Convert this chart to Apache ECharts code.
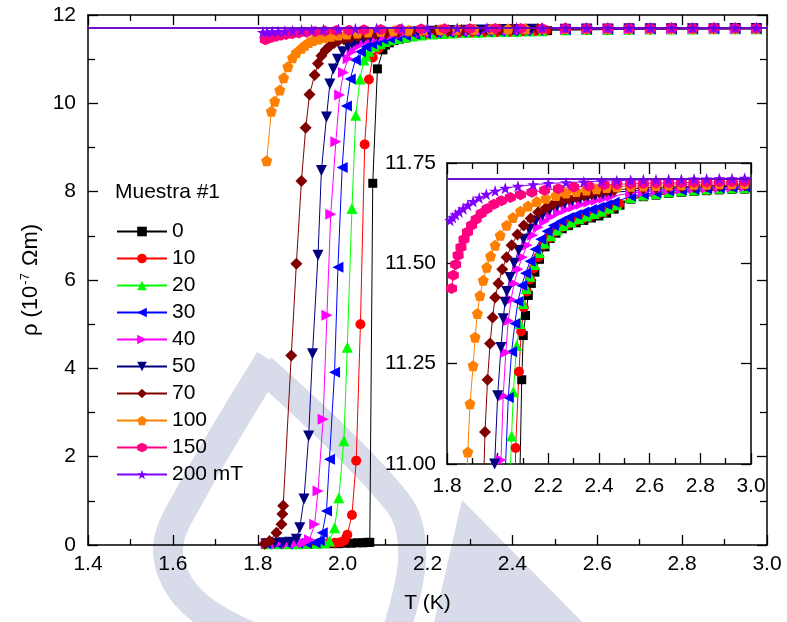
<!DOCTYPE html>
<html>
<head>
<meta charset="utf-8">
<script src="https://cdn.jsdelivr.net/npm/echarts@6/dist/echarts.min.js"></script>
<style>
  html, body { margin: 0; padding: 0; background: #fff; }
  #chart { width: 787px; height: 622px; }
</style>
</head>
<body>
<div id="chart"></div>
<script>
// Resistivity rho (10^-7 Ohm m) versus temperature T (K), sample #1, for several applied fields.
// Each curve is a list of [T, rho] pairs.
const rho0 = [
  [1.820,0.02],[1.845,0.02],[1.870,0.02],[1.895,0.02],[1.920,0.02],[1.945,0.03],[1.970,0.03],[1.990,0.03],
  [2.005,0.04],[2.020,0.04],[2.035,0.05],[2.048,0.05],[2.058,0.06],[2.064,0.06],
  [2.071,8.19],[2.082,10.78],[2.095,11.21],[2.101,11.32],[2.110,11.37],[2.121,11.42],[2.133,11.45],
  [2.147,11.478],[2.165,11.51],[2.187,11.541],[2.207,11.562],[2.230,11.575],[2.255,11.586],[2.280,11.594],
  [2.310,11.601],[2.340,11.607],[2.370,11.613],[2.400,11.618],[2.430,11.625],[2.460,11.635],[2.483,11.645],
  [2.525,11.660],[2.575,11.666],[2.625,11.670],[2.675,11.674],[2.725,11.677],[2.775,11.679],[2.825,11.681],
  [2.875,11.683],[2.925,11.684],[2.975,11.685]
];
const rho10 = [
  [1.820,0.03],[1.845,0.03],[1.870,0.03],[1.895,0.03],[1.920,0.03],[1.945,0.04],[1.965,0.04],[1.982,0.05],
  [1.995,0.06],[2.004,0.10],[2.011,0.23],[2.022,0.68],[2.032,1.91],[2.042,5.00],[2.052,9.07],[2.062,10.54],
  [2.071,11.04],[2.084,11.23],[2.093,11.33],[2.103,11.39],[2.115,11.43],[2.128,11.46],[2.142,11.487],
  [2.160,11.515],[2.180,11.545],[2.200,11.563],[2.225,11.578],[2.250,11.589],[2.275,11.597],[2.305,11.605],
  [2.335,11.611],[2.365,11.617],[2.395,11.623],[2.425,11.630],[2.455,11.640],[2.480,11.648],
  [2.525,11.662],[2.575,11.668],[2.625,11.672],[2.675,11.676],[2.725,11.679],[2.775,11.681],[2.825,11.683],
  [2.875,11.685],[2.925,11.686],[2.975,11.687]
];
const rho20 = [
  [1.820,0.03],[1.845,0.03],[1.870,0.03],[1.895,0.03],[1.920,0.04],[1.940,0.04],[1.957,0.05],[1.969,0.09],
  [1.981,0.39],[1.991,1.07],[2.003,2.36],[2.011,4.48],[2.022,7.62],[2.031,9.73],[2.041,10.55],[2.050,10.98],
  [2.055,11.07],[2.062,11.18],[2.075,11.295],[2.088,11.35],[2.100,11.40],[2.113,11.437],[2.128,11.468],
  [2.145,11.497],[2.165,11.527],[2.185,11.550],[2.210,11.569],[2.235,11.583],[2.260,11.594],[2.290,11.603],
  [2.320,11.611],[2.350,11.618],[2.380,11.624],[2.410,11.630],[2.440,11.637],[2.470,11.646],
  [2.525,11.664],[2.575,11.670],[2.625,11.674],[2.675,11.678],[2.725,11.681],[2.775,11.683],[2.825,11.685],
  [2.875,11.687],[2.925,11.688],[2.975,11.689]
];
const rho30 = [
  [1.820,0.03],[1.845,0.03],[1.870,0.03],[1.895,0.04],[1.915,0.04],[1.935,0.05],[1.945,0.10],[1.952,0.28],
  [1.962,0.77],[1.969,1.94],[1.981,3.91],[1.989,6.29],[1.999,8.55],[2.009,9.94],[2.018,10.55],[2.030,10.98],
  [2.042,11.166],[2.055,11.28],[2.068,11.35],[2.080,11.405],[2.095,11.445],[2.110,11.475],[2.128,11.505],
  [2.148,11.535],[2.170,11.560],[2.195,11.580],[2.220,11.594],[2.250,11.605],[2.280,11.614],[2.310,11.621],
  [2.340,11.628],[2.370,11.634],[2.400,11.640],[2.430,11.646],[2.460,11.652],
  [2.525,11.667],[2.575,11.672],[2.625,11.676],[2.675,11.680],[2.725,11.682],[2.775,11.684],[2.825,11.686],
  [2.875,11.688],[2.925,11.689],[2.975,11.690]
];
const rho40 = [
  [1.820,0.03],[1.845,0.03],[1.870,0.04],[1.890,0.04],[1.908,0.05],[1.922,0.12],[1.934,0.47],[1.942,1.22],
  [1.954,2.85],[1.963,5.20],[1.972,7.49],[1.984,9.13],[1.993,10.19],[2.002,10.70],[2.013,11.01],[2.022,11.17],
  [2.032,11.278],[2.042,11.357],[2.053,11.41],[2.065,11.45],[2.080,11.485],[2.097,11.515],[2.116,11.545],
  [2.138,11.570],[2.160,11.590],[2.185,11.605],[2.210,11.616],[2.240,11.626],[2.270,11.634],[2.300,11.641],
  [2.330,11.647],[2.360,11.652],[2.390,11.657],[2.420,11.662],[2.450,11.667],
  [2.525,11.675],[2.575,11.678],[2.625,11.681],[2.675,11.683],[2.725,11.685],[2.775,11.687],[2.825,11.688],
  [2.875,11.689],[2.925,11.690],[2.975,11.691]
];
const rho50 = [
  [1.820,0.03],[1.840,0.04],[1.860,0.05],[1.875,0.06],[1.891,0.13],[1.899,0.39],[1.909,1.04],[1.920,2.47],
  [1.929,4.33],[1.942,6.56],[1.950,8.48],[1.962,9.69],[1.970,10.44],[1.978,10.78],[1.988,11.00],[2.000,11.17],
  [2.013,11.29],[2.022,11.362],[2.029,11.403],[2.036,11.43],[2.049,11.465],[2.065,11.50],[2.083,11.532],
  [2.102,11.560],[2.125,11.585],[2.150,11.605],[2.177,11.620],[2.205,11.632],[2.235,11.642],[2.265,11.650],
  [2.295,11.656],[2.325,11.661],[2.355,11.665],[2.385,11.669],[2.415,11.673],[2.445,11.677],
  [2.525,11.680],[2.575,11.682],[2.625,11.684],[2.675,11.686],[2.725,11.688],[2.775,11.689],[2.825,11.690],
  [2.875,11.691],[2.925,11.692],[2.975,11.693]
];
const rho70 = [
  [1.816,0.03],[1.828,0.09],[1.844,0.28],[1.856,0.47],[1.858,0.70],[1.860,0.89],[1.879,4.29],[1.891,6.37],
  [1.903,8.24],[1.913,9.45],[1.922,10.20],[1.934,10.64],[1.942,10.90],[1.950,11.08],[1.960,11.21],[1.970,11.30],
  [1.980,11.365],[1.990,11.415],[2.003,11.45],[2.018,11.485],[2.035,11.515],[2.055,11.545],[2.078,11.572],
  [2.103,11.594],[2.130,11.612],[2.160,11.627],[2.190,11.638],[2.220,11.647],[2.250,11.654],[2.280,11.660],
  [2.310,11.665],[2.340,11.669],[2.370,11.673],[2.400,11.677],[2.430,11.680],[2.460,11.683],
  [2.525,11.686],[2.575,11.688],[2.625,11.689],[2.675,11.690],[2.725,11.691],[2.775,11.692],[2.825,11.693],
  [2.875,11.694],[2.925,11.695],[2.975,11.696]
];
const rho100 = [
  [1.821,8.70],[1.832,9.82],[1.840,10.05],[1.852,10.30],[1.861,10.58],[1.871,10.83],[1.882,11.03],[1.891,11.15],
  [1.903,11.245],[1.911,11.316],[1.920,11.375],[1.930,11.42],[1.943,11.458],[1.957,11.49],[1.972,11.518],
  [1.990,11.545],[2.010,11.570],[2.035,11.595],[2.060,11.614],[2.090,11.630],[2.120,11.643],[2.155,11.654],
  [2.190,11.662],[2.230,11.669],[2.270,11.675],[2.310,11.679],[2.350,11.683],[2.390,11.686],[2.430,11.689],
  [2.470,11.691],
  [2.525,11.692],[2.575,11.693],[2.625,11.694],[2.675,11.695],[2.725,11.696],[2.775,11.697],[2.825,11.697],
  [2.875,11.698],[2.925,11.698],[2.975,11.699]
];
const rho150 = [
  [1.818,11.437],[1.825,11.47],[1.834,11.497],[1.844,11.52],[1.855,11.54],[1.867,11.56],[1.881,11.578],
  [1.897,11.595],[1.915,11.61],[1.935,11.624],[1.958,11.636],[1.985,11.647],[2.015,11.656],[2.050,11.664],
  [2.090,11.671],[2.135,11.677],[2.185,11.682],[2.240,11.686],[2.300,11.690],[2.360,11.693],[2.420,11.696],
  [2.470,11.697],
  [2.525,11.698],[2.575,11.699],[2.625,11.700],[2.675,11.700],[2.725,11.701],[2.775,11.702],[2.825,11.702],
  [2.875,11.703],[2.925,11.703],[2.975,11.704]
];
const rho200 = [
  [1.812,11.607],[1.822,11.614],[1.834,11.621],[1.848,11.628],[1.864,11.636],[1.882,11.645],[1.903,11.654],
  [1.927,11.663],[1.955,11.672],[1.990,11.680],[2.030,11.687],[2.080,11.692],[2.140,11.696],[2.200,11.699],
  [2.270,11.701],[2.340,11.703],[2.410,11.705],[2.470,11.706],
  [2.525,11.707],[2.575,11.708],[2.625,11.708],[2.675,11.709],[2.725,11.709],[2.775,11.710],[2.825,11.710],
  [2.875,11.711],[2.925,11.711],[2.975,11.712]
];

// Legend entries (field in mT) and the curves in the same order
const fieldLabels = ['0', '10', '20', '30', '40', '50', '70', '100', '150', '200 mT'];
const curves = [rho0, rho10, rho20, rho30, rho40, rho50, rho70, rho100, rho150, rho200];

// Normal-state reference levels drawn as horizontal lines
const normalLevelHigh = 11.714;
const normalLevelLow = 11.707;

// Axis ranges
const mainT = [1.4, 3.0], mainRho = [0, 12];
const insetT = [1.8, 3.0], insetRho = [11.0, 11.75];

// ---- styling ----
const FONT = 'Liberation Sans, Arial, sans-serif';
const colors = ['#000000', '#ff0000', '#00ff00', '#0000ff', '#ff00ff', '#000080', '#800000', '#ff8000', '#ff0080', '#8000ff'];
const pentagon = 'path://M50,0 L97.6,34.5 L79.4,90.5 L20.6,90.5 L2.4,34.5 Z';
const hexagon = 'path://M50,0 L93.3,25 L93.3,75 L50,100 L6.7,75 L6.7,25 Z';
const star = 'path://M50,0 L61.8,35.3 L99,35.3 L69,57.1 L80.4,92.7 L50,70.7 L19.6,92.7 L31,57.1 L1,35.3 L38.2,35.3 Z';
const marks = [
  { symbol: 'rect', size: 9, rotate: 0 },
  { symbol: 'circle', size: 10, rotate: 0 },
  { symbol: 'triangle', size: 11, rotate: 0 },
  { symbol: 'triangle', size: 11, rotate: 90 },
  { symbol: 'triangle', size: 11, rotate: -90 },
  { symbol: 'triangle', size: 11, rotate: 180 },
  { symbol: 'diamond', size: 12, rotate: 0 },
  { symbol: pentagon, size: 11, rotate: 0 },
  { symbol: hexagon, size: 11, rotate: 0 },
  { symbol: star, size: 12, rotate: 0 }
];

const black = '#000';
const axisLine = { show: true, onZero: false, lineStyle: { color: black, width: 1.5 } };

function valueAxis(opts) {
  const base = {
    type: 'value',
    axisLine: axisLine,
    axisTick: { show: true, inside: true, length: opts.tickLen || 9, lineStyle: { color: black, width: 1.3 } },
    minorTick: { show: !!opts.minor, splitNumber: 2, length: opts.minorLen || 5, lineStyle: { color: black, width: 1.3 } },
    splitLine: { show: false },
    minorSplitLine: { show: false },
    axisLabel: opts.labels === false ? { show: false } : {
      show: true, color: black, fontFamily: FONT, fontSize: 21, margin: opts.margin,
      formatter: v => v.toFixed(opts.decimals)
    }
  };
  return Object.assign(base, opts.extra || {});
}

const xAxes = [
  valueAxis({ minor: true, margin: 9, decimals: 1, tickLen: 10, minorLen: 6, extra: {
    gridIndex: 0, position: 'bottom', min: mainT[0], max: mainT[1], interval: 0.2,
    name: 'T (K)', nameLocation: 'middle', nameGap: 48,
    nameTextStyle: { color: black, fontFamily: FONT, fontSize: 21 } } }),
  valueAxis({ minor: true, labels: false, tickLen: 10, minorLen: 6, extra: {
    gridIndex: 0, position: 'top', min: mainT[0], max: mainT[1], interval: 0.2 } }),
  valueAxis({ minor: true, margin: 12, decimals: 1, tickLen: 11, minorLen: 6, extra: {
    gridIndex: 1, position: 'bottom', min: insetT[0], max: insetT[1], interval: 0.2 } }),
  valueAxis({ minor: true, labels: false, tickLen: 11, minorLen: 6, extra: {
    gridIndex: 1, position: 'top', min: insetT[0], max: insetT[1], interval: 0.2 } })
];
const yAxes = [
  valueAxis({ minor: true, margin: 12, decimals: 0, tickLen: 10, minorLen: 7, extra: {
    gridIndex: 0, position: 'left', min: mainRho[0], max: mainRho[1], interval: 2,
    name: '{n|ρ (10}{s|-7}{n| Ωm)}', nameLocation: 'middle', nameGap: 46, nameRotate: 90,
    nameTextStyle: { color: black, fontFamily: FONT, fontSize: 22,
      rich: { n: { fontFamily: FONT, fontSize: 22, color: black },
              s: { fontFamily: FONT, fontSize: 13, color: black, padding: [0, 1, 10, 1] } } } } }),
  valueAxis({ minor: true, labels: false, tickLen: 10, minorLen: 7, extra: {
    gridIndex: 0, position: 'right', min: mainRho[0], max: mainRho[1], interval: 2 } }),
  valueAxis({ minor: false, margin: 11, decimals: 2, tickLen: 10, extra: {
    gridIndex: 1, position: 'left', min: insetRho[0], max: insetRho[1], interval: 0.25 } }),
  valueAxis({ minor: false, labels: false, tickLen: 10, extra: {
    gridIndex: 1, position: 'right', min: insetRho[0], max: insetRho[1], interval: 0.25 } })
];

function makeSeries(i, xi, yi) {
  const s = {
    name: fieldLabels[i],
    type: 'line',
    xAxisIndex: xi,
    yAxisIndex: yi,
    data: curves[i],
    symbol: marks[i].symbol,
    symbolSize: marks[i].size,
    symbolRotate: marks[i].rotate,
    showSymbol: true,
    clip: true,
    lineStyle: { color: colors[i], width: 1 },
    itemStyle: { color: colors[i] },
    emphasis: { disabled: true },
    animation: false
  };
  const level = i === 0 ? normalLevelLow : (i === 9 ? normalLevelHigh : null);
  if (level !== null) {
    s.markLine = {
      silent: true, symbol: ['none', 'none'], label: { show: false }, animation: false,
      lineStyle: { color: colors[i], width: 1.5, type: 'solid' },
      data: [{ yAxis: level }]
    };
  }
  return s;
}

const series = [];
for (let i = 0; i < curves.length; i++) series.push(makeSeries(i, 0, 0));
for (let i = 0; i < curves.length; i++) series.push(makeSeries(i, 2, 2));

// Faint institutional watermark behind the plot
const wm = '#d8dcea';
const watermark = [
  { type: 'polyline', z: -10, silent: true,
    shape: { points: [[270, 360], [190, 495], [168, 548], [186, 595], [240, 632], [305, 652]], smooth: 0.35 },
    style: { fill: null, stroke: wm, lineWidth: 30 } },
  { type: 'polyline', z: -10, silent: true,
    shape: { points: [[262, 368], [398, 503], [412, 560], [392, 645]], smooth: 0.35 },
    style: { fill: null, stroke: wm, lineWidth: 28 } },
  { type: 'polygon', z: -10, silent: true,
    shape: { points: [[462, 500], [600, 640], [430, 640]] },
    style: { fill: wm } }
];

const chart = echarts.init(document.getElementById('chart'), null, { renderer: 'canvas' });
chart.setOption({
  animation: false,
  backgroundColor: '#fff',
  title: {
    text: 'Muestra #1', left: 115, top: 182, padding: 0,
    textStyle: { color: black, fontFamily: FONT, fontSize: 21, fontWeight: 'normal' }
  },
  legend: {
    data: fieldLabels,
    orient: 'vertical', left: 116, top: 221, padding: 0,
    itemWidth: 50, itemHeight: 12, itemGap: 6,
    selectedMode: false,
    textStyle: { color: black, fontFamily: FONT, fontSize: 21 }
  },
  grid: [
    { left: 88, top: 15, width: 679, height: 530, containLabel: false },
    { left: 447, top: 163, width: 304, height: 301, containLabel: false,
      show: true, backgroundColor: '#fff', borderWidth: 0 }
  ],
  xAxis: xAxes,
  yAxis: yAxes,
  graphic: { elements: watermark },
  series: series
});
</script>
</body>
</html>
